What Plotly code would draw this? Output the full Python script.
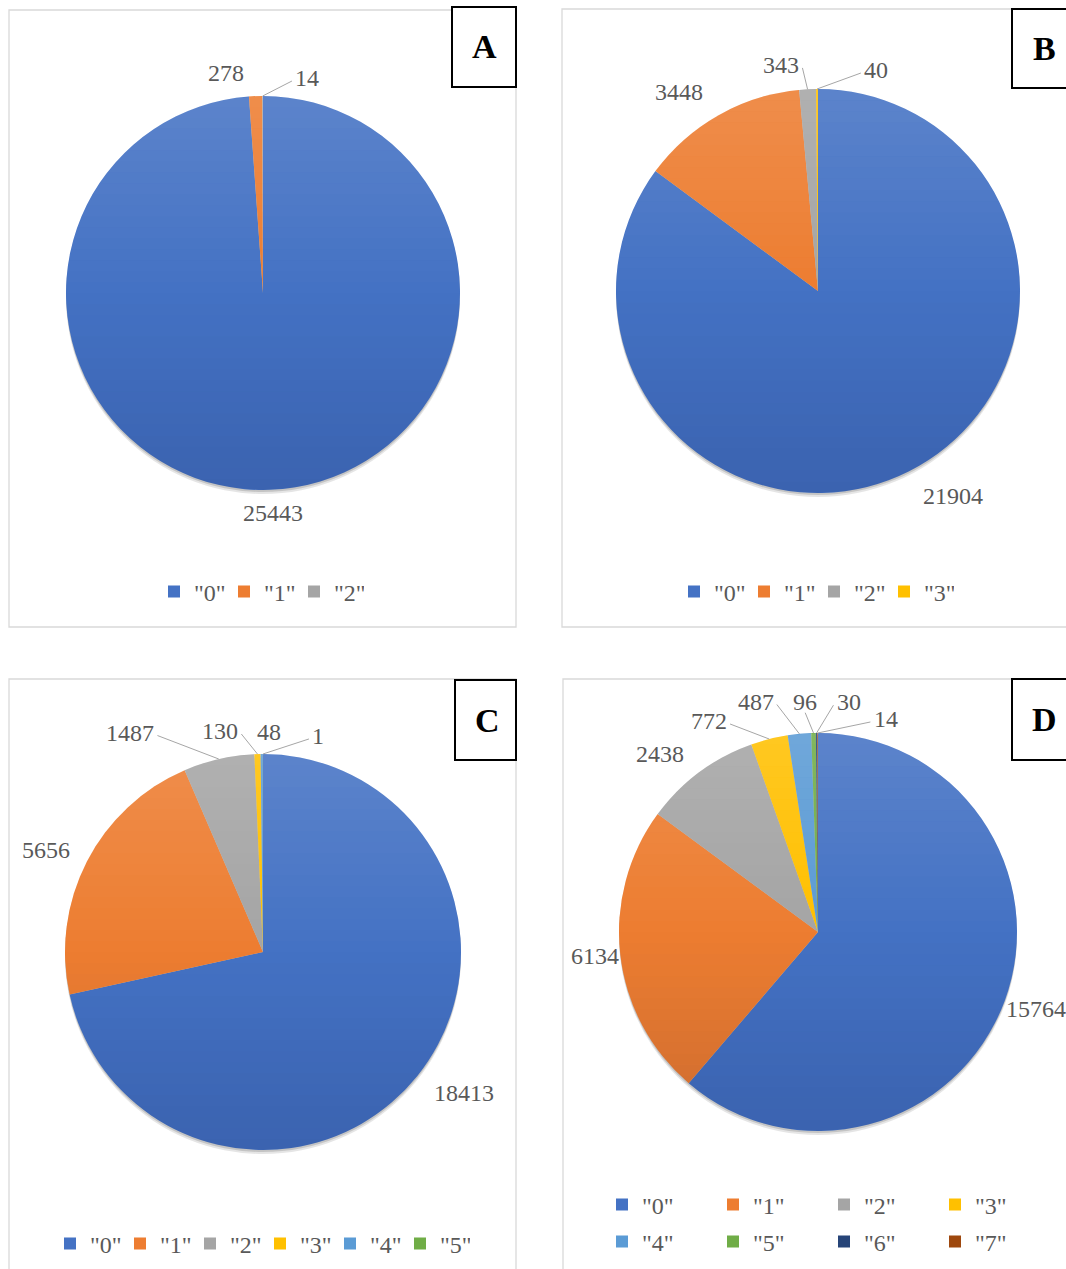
import math
import plotly.graph_objects as go

W, H = 1066, 1269

# ---------------- data ----------------
CATEGORIES = ['"0"', '"1"', '"2"', '"3"', '"4"', '"5"', '"6"', '"7"']
PANEL_LETTERS = ["A", "B", "C", "D"]
values_A = [25443, 278, 14]
values_B = [21904, 3448, 343, 40]
values_C = [18413, 5656, 1487, 130, 48, 1]
values_D = [15764, 6134, 2438, 772, 487, 96, 30, 14]

# ---------------- style ----------------
COLORS = ["#4472C4", "#ED7D31", "#A5A5A5", "#FFC000",
          "#5B9BD5", "#70AD47", "#264478", "#9E480E"]
FONT = "Liberation Serif"
TXT = "#595959"

# per panel geometry (pixels) and label placement tweaks
PANELS = [
    dict(values=values_A, frame=(9, 10, 516, 627), box=(452, 7, 516, 87),
         center=(263, 293), r=197,
         nudge=[-0.6, -7.4, 11.7], k=[1.118, 1.132, 1.114],
         leader=[False, False, True],
         legends=[("legend", 0, 3)]),
    dict(values=values_B, frame=(562, 9, 1080, 627), box=(1012, 9, 1080, 88),
         center=(818, 291), r=202,
         nudge=[-6.6, -5.4, -6.3, 15.0], k=[1.215, 1.20, 1.134, 1.131],
         leader=[False, False, True, True],
         legends=[("legend2", 0, 4)]),
    dict(values=values_C, frame=(9, 679, 516, 1290), box=(455, 680, 516, 760),
         center=(263, 952), r=198,
         nudge=[-3.75, -1.9, -18.3, -9.4, 1.9, 14.3],
         k=[1.24, 1.211, 1.296, 1.137, 1.109, 1.126],
         leader=[False, False, True, True, False, True],
         legends=[("legend3", 0, 6)]),
    dict(values=values_D, frame=(563, 679, 1080, 1290), box=(1012, 679, 1080, 760),
         center=(818, 932), r=199,
         nudge=[-0.9, 0.5, -5.0, -13.2, -9.8, -1.9, 8.0, 17.7],
         k=[1.16, 1.126, 1.197, 1.194, 1.2, 1.159, 1.165, 1.123],
         leader=[False, False, False, True, True, True, True, True],
         legends=[("legend4", 0, 4), ("legend5", 4, 8)]),
]

N_BANDS = 36          # shading bands for the vertical light-to-dark gradient
SHADE = 0.13          # max white (top) / black (bottom) overlay opacity


def px(x):
    return x / W


def py(y):
    return 1 - y / H


def band_path(cx, cy, r, ya, yb, steps=6):
    """Closed path (paper coords) of the horizontal circle band between ya and yb (pixels)."""
    left, right = [], []
    for j in range(steps + 1):
        y = ya + (yb - ya) * j / steps
        dx = math.sqrt(max(r * r - (y - cy) ** 2, 0.0))
        left.append((cx - dx, y))
        right.append((cx + dx, y))
    pts = left + right[::-1]
    d = "M " + " L ".join("%.6f,%.6f" % (px(x), py(y)) for x, y in pts) + " Z"
    return d


fig = go.Figure()
shapes = []
annotations = []

for p, letter in zip(PANELS, PANEL_LETTERS):
    vals = p["values"]
    n = len(vals)
    cx, cy = p["center"]
    r = p["r"]
    # panel frame
    fx0, fy0, fx1, fy1 = p["frame"]
    shapes.append(dict(type="rect", xref="paper", yref="paper",
                       x0=px(fx0), x1=px(fx1), y0=py(fy1), y1=py(fy0),
                       line=dict(color="#D9D9D9", width=1.3), layer="below"))
    # soft shadow under pie
    for off, op in [(4, 0.10), (2, 0.14)]:
        shapes.append(dict(type="circle", xref="paper", yref="paper",
                           x0=px(cx - r), x1=px(cx + r),
                           y0=py(cy + r + off), y1=py(cy - r + off),
                           fillcolor="rgba(0,0,0,%s)" % op, line=dict(width=0),
                           layer="below"))
    fig.add_trace(go.Pie(
        labels=CATEGORIES[:n], values=vals, sort=False, direction="clockwise",
        rotation=0, marker=dict(colors=COLORS[:n], line=dict(width=0)),
        textinfo="none", hoverinfo="label+value",
        domain=dict(x=[px(cx - r), px(cx + r)], y=[py(cy + r), py(cy - r)]),
        showlegend=False,
    ))
    # gradient overlay (light at top, dark at bottom)
    for b in range(N_BANDS):
        ya = cy - r + 2 * r * b / N_BANDS
        yb = cy - r + 2 * r * (b + 1) / N_BANDS
        s = ((ya + yb) / 2.0 - cy) / r
        if s < 0:
            col = "rgba(255,255,255,%.3f)" % (SHADE * -s)
        else:
            col = "rgba(0,0,40,%.3f)" % (SHADE * s)
        shapes.append(dict(type="path", xref="paper", yref="paper",
                           path=band_path(cx, cy, r, ya, yb),
                           fillcolor=col, line=dict(width=0), layer="above"))
    # legend entries for this panel
    for lg, i0, i1 in p["legends"]:
        for i in range(i0, i1):
            fig.add_trace(go.Scatter(
                x=[None], y=[None], mode="markers", name=CATEGORIES[i],
                marker=dict(symbol="square", size=12, color=COLORS[i]),
                legend=lg, showlegend=True, hoverinfo="skip"))
    # data labels
    total = float(sum(vals))
    cum = 0.0
    for i, v in enumerate(vals):
        mid = (cum + v / 2.0) / total * 360.0
        cum += v
        a = math.radians(mid + p["nudge"][i])
        R = p["k"][i] * r
        lx = cx + R * math.sin(a)
        ly = cy - R * math.cos(a)
        annotations.append(dict(x=px(lx), y=py(ly), xref="paper", yref="paper",
                                text=str(v), showarrow=False,
                                xanchor="center", yanchor="middle",
                                font=dict(family=FONT, size=24, color=TXT)))
        if p["leader"][i]:
            am = math.radians(mid)
            ax = cx + r * math.sin(am)
            ay = cy - r * math.cos(am)
            hw = len(str(v)) * 6.1 + 3
            if abs(lx - ax) < hw:
                ex, ey = lx, ly + 11
            else:
                ex = lx - math.copysign(hw, lx - ax)
                ey = ly + 3
            shapes.append(dict(type="line", xref="paper", yref="paper",
                               x0=px(ax), y0=py(ay), x1=px(ex), y1=py(ey),
                               line=dict(color="#A6A6A6", width=1)))
    # letter box
    bx0, by0, bx1, by1 = p["box"]
    shapes.append(dict(type="rect", xref="paper", yref="paper",
                       x0=px(bx0), x1=px(bx1), y0=py(by1), y1=py(by0),
                       line=dict(color="black", width=2), fillcolor="white",
                       layer="above"))
    annotations.append(dict(x=px(bx0 + 32), y=py((by0 + by1) / 2.0),
                            xref="paper", yref="paper", text="<b>%s</b>" % letter,
                            showarrow=False, xanchor="center", yanchor="middle",
                            font=dict(family=FONT, size=34, color="black")))

legend_common = dict(orientation="h", bgcolor="rgba(0,0,0,0)",
                     font=dict(family=FONT, size=24, color=TXT),
                     xanchor="left", yanchor="middle", itemclick=False,
                     itemdoubleclick=False)

fig.update_layout(
    width=W, height=H,
    margin=dict(l=0, r=0, t=0, b=0),
    paper_bgcolor="white", plot_bgcolor="rgba(0,0,0,0)",
    xaxis=dict(visible=False), yaxis=dict(visible=False),
    shapes=shapes, annotations=annotations,
    legend=dict(x=px(154), y=py(592), entrywidth=25, **legend_common),
    legend2=dict(x=px(674), y=py(592), entrywidth=25, **legend_common),
    legend3=dict(x=px(50), y=py(1244), entrywidth=25, **legend_common),
    legend4=dict(x=px(602), y=py(1205), entrywidth=66, **legend_common),
    legend5=dict(x=px(602), y=py(1242), entrywidth=66, **legend_common),
)

fig.write_html("out.html")
